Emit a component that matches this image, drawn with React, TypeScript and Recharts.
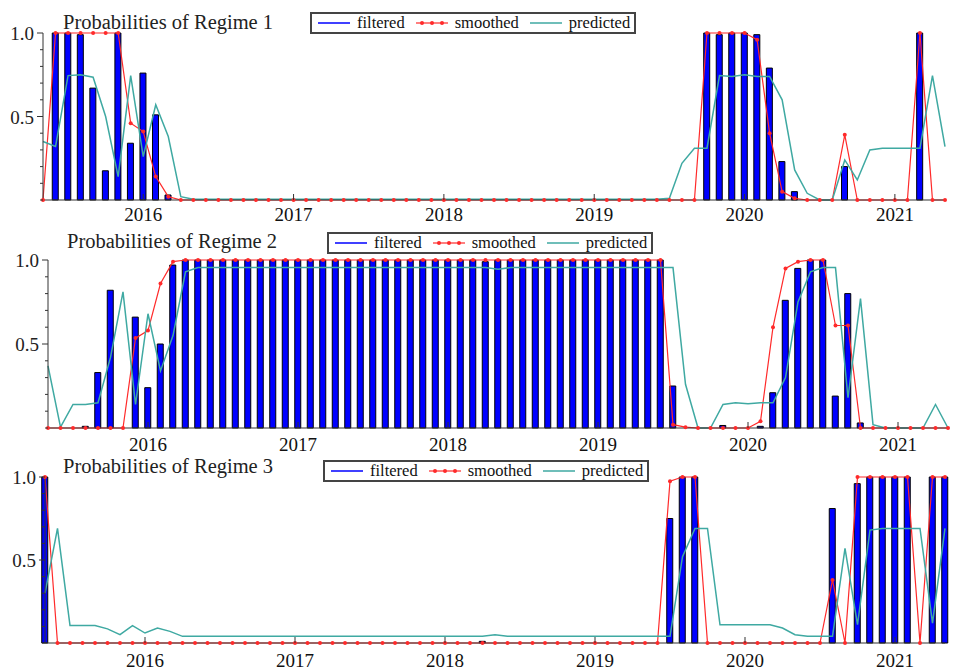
import React from 'react';
import { ComposedChart, Bar, Line, XAxis, YAxis, Legend } from 'recharts';

// monthly observations, May 2015 .. May 2021
const FIRST_YEAR = 2015;
const FIRST_MONTH = 5;
const MONTH_COUNT = 73;
const MONTHS = Array.from({ length: MONTH_COUNT }, (_, i) => {
  const m = FIRST_MONTH - 1 + i;
  return `${FIRST_YEAR + Math.floor(m / 12)}-${String((m % 12) + 1).padStart(2, '0')}`;
});

const YEAR_LABELS = ['2016', '2017', '2018', '2019', '2020', '2021'];
const Y_TICKS = [0, 0.1, 0.2, 0.3, 0.4, 0.5, 0.6, 0.7, 0.8, 0.9, 1.0];
const Y_TICK_LABELS = [0.5, 1.0];

// Regime 1
const R1_FILTERED = [
  0, 1, 1, 0.99, 0.67, 0.175, 1, 0.34,
  0.76, 0.51, 0.03, 0, 0, 0, 0, 0, 0, 0, 0, 0,
  0, 0, 0, 0, 0, 0, 0, 0, 0, 0, 0, 0,
  0, 0, 0, 0, 0, 0, 0, 0, 0, 0, 0, 0,
  0, 0, 0, 0, 0, 0, 0, 0, 0, 1, 0.99, 1,
  1, 0.99, 0.79, 0.23, 0.05, 0, 0, 0, 0.2, 0, 0, 0,
  0, 0, 1, 0, 0,
];
const R1_SMOOTHED = [
  0, 1, 1, 1, 1, 1, 1, 0.46,
  0.41, 0.14, 0.02, 0, 0, 0, 0, 0, 0, 0, 0, 0,
  0, 0, 0, 0, 0, 0, 0, 0, 0, 0, 0, 0,
  0, 0, 0, 0, 0, 0, 0, 0, 0, 0, 0, 0,
  0, 0, 0, 0, 0, 0, 0, 0, 0, 1, 1, 1,
  1, 0.96, 0.4, 0.05, 0.01, 0, 0, 0, 0.39, 0, 0, 0,
  0, 0, 1, 0, 0,
];
const R1_PREDICTED = [
  0.35, 0.32, 0.745, 0.75, 0.735, 0.5, 0.14, 0.745,
  0.26, 0.57, 0.38, 0.02, 0.005, 0.005, 0.005, 0.005, 0.005, 0.005, 0.005, 0.005,
  0.005, 0.005, 0.005, 0.005, 0.005, 0.005, 0.005, 0.005, 0.005, 0.005, 0.005, 0.005,
  0.005, 0.005, 0.005, 0.005, 0.005, 0.005, 0.005, 0.005, 0.005, 0.005, 0.005, 0.005,
  0.005, 0.005, 0.005, 0.005, 0.005, 0.005, 0.01, 0.22, 0.31, 0.31, 0.745, 0.74,
  0.75, 0.74, 0.74, 0.6, 0.18, 0.04, 0, 0, 0.24, 0.12, 0.3, 0.31,
  0.31, 0.31, 0.31, 0.745, 0.32,
];

// Regime 2
const R2_FILTERED = [
  0, 0, 0, 0.01, 0.33, 0.82, 0, 0.66,
  0.24, 0.5, 0.97, 1, 1, 1, 1, 1, 1, 1, 1, 1,
  1, 1, 1, 1, 1, 1, 1, 1, 1, 1, 1, 1,
  1, 1, 1, 0.99, 1, 1, 1, 1, 1, 1, 1, 1,
  1, 1, 1, 1, 1, 1, 0.25, 0, 0, 0, 0.015, 0,
  0, 0.01, 0.21, 0.76, 0.95, 1, 1, 0.19, 0.8, 0.03, 0, 0,
  0, 0, 0, 0, 0,
];
const R2_SMOOTHED = [
  0, 0, 0, 0, 0, 0, 0, 0.535,
  0.58, 0.86, 0.99, 1, 1, 1, 1, 1, 1, 1, 1, 1,
  1, 1, 1, 1, 1, 1, 1, 1, 1, 1, 1, 1,
  1, 1, 1, 1, 1, 1, 1, 1, 1, 1, 1, 1,
  1, 1, 1, 1, 1, 1, 0.02, 0.005, 0, 0, 0, 0,
  0, 0.04, 0.6, 0.95, 0.99, 1, 1, 0.61, 0.61, 0, 0, 0,
  0, 0, 0, 0, 0,
];
const R2_PREDICTED = [
  0.37, 0.005, 0.14, 0.14, 0.15, 0.42, 0.81, 0.14,
  0.68, 0.34, 0.55, 0.93, 0.955, 0.955, 0.955, 0.955, 0.955, 0.955, 0.955, 0.955,
  0.955, 0.955, 0.955, 0.955, 0.955, 0.955, 0.955, 0.955, 0.955, 0.955, 0.955, 0.955,
  0.955, 0.955, 0.955, 0.955, 0.945, 0.955, 0.955, 0.955, 0.955, 0.955, 0.955, 0.955,
  0.955, 0.955, 0.955, 0.955, 0.955, 0.955, 0.955, 0.26, 0, 0, 0.14, 0.15,
  0.145, 0.15, 0.15, 0.3, 0.75, 0.93, 0.955, 0.955, 0.18, 0.77, 0.02, 0,
  0, 0, 0, 0.14, 0,
];

// Regime 3
const R3_FILTERED = [
  1, 0, 0, 0, 0, 0, 0, 0,
  0, 0, 0, 0, 0, 0, 0, 0, 0, 0, 0, 0,
  0, 0, 0, 0, 0, 0, 0, 0, 0, 0, 0, 0,
  0, 0, 0, 0.01, 0, 0, 0, 0, 0, 0, 0, 0,
  0, 0, 0, 0, 0, 0, 0.75, 1, 1, 0, 0, 0,
  0, 0, 0, 0, 0, 0, 0, 0.81, 0, 0.96, 1, 1,
  1, 1, 0, 1, 1,
];
const R3_SMOOTHED = [
  1, 0, 0, 0, 0, 0, 0, 0,
  0, 0, 0, 0, 0, 0, 0, 0, 0, 0, 0, 0,
  0, 0, 0, 0, 0, 0, 0, 0, 0, 0, 0, 0,
  0, 0, 0, 0, 0, 0, 0, 0, 0, 0, 0, 0,
  0, 0, 0, 0, 0, 0, 0.975, 1, 1, 0, 0, 0,
  0, 0, 0, 0, 0, 0, 0, 0.38, 0, 1, 1, 1,
  1, 1, 0, 1, 1,
];
const R3_PREDICTED = [
  0.3, 0.69, 0.105, 0.105, 0.105, 0.085, 0.05, 0.105,
  0.06, 0.09, 0.07, 0.04, 0.04, 0.04, 0.04, 0.04, 0.04, 0.04, 0.04, 0.04,
  0.04, 0.04, 0.04, 0.04, 0.04, 0.04, 0.04, 0.04, 0.04, 0.04, 0.04, 0.04,
  0.04, 0.04, 0.04, 0.04, 0.05, 0.04, 0.04, 0.04, 0.04, 0.04, 0.04, 0.04,
  0.04, 0.04, 0.04, 0.04, 0.04, 0.04, 0.04, 0.52, 0.69, 0.69, 0.11, 0.11,
  0.11, 0.11, 0.11, 0.09, 0.05, 0.04, 0.04, 0.04, 0.57, 0.11, 0.68, 0.69,
  0.69, 0.69, 0.69, 0.12, 0.69,
];

const BLUE = '#0000ff';
const RED = '#ff2a2a';
const TEAL = '#3fa9a2';
const AXIS = '#333';
const FONT = '"Liberation Serif", "Times New Roman", serif';
const WIDTH = 953;

const YEAR_TICK_INDEX = YEAR_LABELS.map((y) => MONTHS.indexOf(`${y}-01`));

// layout of each panel (pixels)
const PANELS = [
  {
    title: 'Probabilities of Regime 1',
    filtered: R1_FILTERED, smoothed: R1_SMOOTHED, predicted: R1_PREDICTED,
    top: 0, height: 228, plotTop: 33, plotBottom: 200, plotLeft: 43, plotRight: 945,
    titleX: 63, titleY: 12, legendX: 310, legendY: 12, labelDy: 21,
  },
  {
    title: 'Probabilities of Regime 2',
    filtered: R2_FILTERED, smoothed: R2_SMOOTHED, predicted: R2_PREDICTED,
    top: 222, height: 232, plotTop: 38, plotBottom: 206, plotLeft: 48, plotRight: 948,
    titleX: 67, titleY: 9, legendX: 327, legendY: 10, labelDy: 23,
  },
  {
    title: 'Probabilities of Regime 3',
    filtered: R3_FILTERED, smoothed: R3_SMOOTHED, predicted: R3_PREDICTED,
    top: 448, height: 222, plotTop: 29, plotBottom: 195, plotLeft: 45, plotRight: 945,
    titleX: 63, titleY: 8, legendX: 323, legendY: 12, labelDy: 24,
  },
];

const labelStyle = { fontFamily: FONT, fontSize: 19 };

const YearTick = ({ x, y, payload, labelDy }: any) => (
  <g>
    <line x1={x} x2={x} y1={y} y2={y - 6} stroke={AXIS} />
    <text x={x} y={y + labelDy} textAnchor="middle" style={labelStyle} fill="#111">
      {MONTHS[payload.value].slice(0, 4)}
    </text>
  </g>
);

const ProbTick = ({ x, y, payload }: any) => {
  const v = payload.value;
  const major = Y_TICK_LABELS.some((t) => Math.abs(t - v) < 1e-9);
  return (
    <g>
      <line x1={x - (major ? 6 : 3)} x2={x} y1={y} y2={y} stroke={AXIS} />
      {major && (
        <text x={x - 9} y={y + 7} textAnchor="end" style={labelStyle} fill="#222">
          {v.toFixed(1)}
        </text>
      )}
    </g>
  );
};

const LegendBox = () => (
  <div
    style={{
      display: 'flex', alignItems: 'center', boxSizing: 'border-box',
      height: 22, padding: '0 4px 0 6px', border: `2px solid #444`, background: '#fff',
      fontFamily: FONT, fontSize: 16.5, color: '#111', whiteSpace: 'nowrap',
    }}
  >
    <svg width={32} height={10}><line x1={0} x2={32} y1={5} y2={5} stroke={BLUE} strokeWidth={1.5} /></svg>
    <span style={{ marginLeft: 7 }}>filtered</span>
    <svg width={32} height={10} style={{ marginLeft: 11 }}>
      <line x1={0} x2={32} y1={5} y2={5} stroke={RED} strokeWidth={1.2} />
      <circle cx={6} cy={5} r={2} fill={RED} />
      <circle cx={16} cy={5} r={2} fill={RED} />
      <circle cx={26} cy={5} r={2} fill={RED} />
    </svg>
    <span style={{ marginLeft: 7 }}>smoothed</span>
    <svg width={32} height={10} style={{ marginLeft: 11 }}><line x1={0} x2={32} y1={5} y2={5} stroke={TEAL} strokeWidth={1.5} /></svg>
    <span style={{ marginLeft: 7 }}>predicted</span>
  </div>
);

function RegimePanel({ p }: { p: (typeof PANELS)[number] }) {
  const data = MONTHS.map((month, i) => ({
    t: i,
    month,
    filtered: p.filtered[i],
    smoothed: p.smoothed[i],
    predicted: p.predicted[i],
  }));

  return (
    <div style={{ position: 'absolute', left: 0, top: p.top, width: WIDTH, height: p.height }}>
      <ComposedChart
        width={WIDTH}
        height={p.height}
        data={data}
        margin={{ top: p.plotTop, right: WIDTH - p.plotRight, bottom: 0, left: 0 }}
      >
        <XAxis
          type="number"
          dataKey="t"
          domain={[0, MONTH_COUNT - 1]}
          ticks={YEAR_TICK_INDEX}
          interval={0}
          height={p.height - p.plotBottom}
          tickSize={0}
          tickMargin={0}
          tickLine={false}
          axisLine={{ stroke: AXIS }}
          tick={(props: any) => <YearTick {...props} labelDy={p.labelDy} />}
        />
        <YAxis
          type="number"
          domain={[0, 1]}
          ticks={Y_TICKS}
          interval={0}
          width={p.plotLeft}
          tickSize={0}
          tickMargin={0}
          tickLine={false}
          axisLine={{ stroke: AXIS }}
          tick={(props: any) => <ProbTick {...props} />}
        />
        <Bar dataKey="filtered" barSize={6} fill={BLUE} stroke="#000" strokeWidth={1} isAnimationActive={false} />
        <Line
          dataKey="smoothed"
          type="linear"
          stroke={RED}
          strokeWidth={1.2}
          dot={{ r: 2, fill: RED, stroke: 'none' }}
          activeDot={false}
          isAnimationActive={false}
        />
        <Line
          dataKey="predicted"
          type="linear"
          stroke={TEAL}
          strokeWidth={1.5}
          dot={false}
          activeDot={false}
          isAnimationActive={false}
        />
        <Legend
          layout="horizontal"
          verticalAlign="middle"
          align="center"
          content={<LegendBox />}
          wrapperStyle={{ left: p.legendX, top: p.legendY, width: 'auto', height: 'auto' }}
        />
      </ComposedChart>
      <div
        style={{
          position: 'absolute', left: p.titleX, top: p.titleY, lineHeight: 1,
          fontFamily: FONT, fontSize: 20.5, color: '#222', whiteSpace: 'nowrap',
        }}
      >
        {p.title}
      </div>
    </div>
  );
}

export default function App() {
  return (
    <div style={{ position: 'absolute', left: 0, top: 0, width: WIDTH, height: 670, background: '#fff', overflow: 'hidden' }}>
      {PANELS.map((p) => (
        <RegimePanel key={p.title} p={p} />
      ))}
    </div>
  );
}
